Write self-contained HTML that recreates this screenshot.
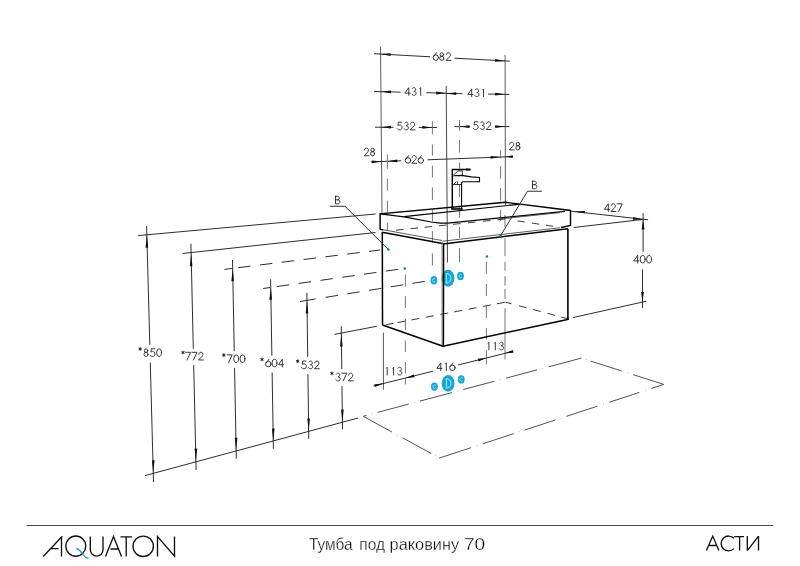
<!DOCTYPE html>
<html><head><meta charset="utf-8"><style>
html,body{margin:0;padding:0;background:#fff;width:800px;height:566px;overflow:hidden}
svg{display:block;will-change:transform}
text{font-family:"Liberation Sans",sans-serif}
</style></head><body>
<svg width="800" height="566" viewBox="0 0 800 566">
<ellipse cx="433.9" cy="280.3" rx="3.4" ry="4.2" fill="#18a6d6"/>
<path d="M435.2,278.90000000000003 A1.6,1.8 0 1 0 435.2,281.7" fill="none" stroke="#a8f0ff" stroke-width="0.75"/>
<ellipse cx="448" cy="278.25" rx="6.4" ry="8.4" fill="#18a6d6"/>
<path d="M446.3,273.45 L446.3,283.05 A4.6,4.8 0 0 0 446.3,273.45" fill="none" stroke="#9ff0ff" stroke-width="1.0"/>
<ellipse cx="460.5" cy="276" rx="3.4" ry="4.2" fill="#18a6d6"/>
<path d="M461.8,274.6 A1.6,1.8 0 1 0 461.8,277.4" fill="none" stroke="#a8f0ff" stroke-width="0.75"/>
<ellipse cx="434.4" cy="386.6" rx="3.4" ry="4.2" fill="#18a6d6"/>
<path d="M435.7,385.20000000000005 A1.6,1.8 0 1 0 435.7,388.0" fill="none" stroke="#a8f0ff" stroke-width="0.75"/>
<ellipse cx="448.1" cy="383.4" rx="6.4" ry="8.4" fill="#18a6d6"/>
<path d="M446.40000000000003,378.59999999999997 L446.40000000000003,388.2 A4.6,4.8 0 0 0 446.40000000000003,378.59999999999997" fill="none" stroke="#9ff0ff" stroke-width="1.0"/>
<ellipse cx="461.25" cy="379.4" rx="3.4" ry="4.2" fill="#18a6d6"/>
<path d="M462.55,378.0 A1.6,1.8 0 1 0 462.55,380.79999999999995" fill="none" stroke="#a8f0ff" stroke-width="0.75"/>
<line x1="380.50" y1="46.50" x2="382.00" y2="213.00" stroke="#4a4a4a" stroke-width="0.9" stroke-linecap="butt"/>
<line x1="446.20" y1="86.00" x2="447.50" y2="262.50" stroke="#333" stroke-width="0.9" stroke-linecap="butt"/>
<line x1="505.10" y1="55.00" x2="505.40" y2="205.00" stroke="#4a4a4a" stroke-width="0.9" stroke-linecap="butt"/>
<line x1="374.00" y1="53.70" x2="430.00" y2="56.79" stroke="#222" stroke-width="0.95" stroke-linecap="butt"/>
<line x1="454.50" y1="58.15" x2="509.75" y2="61.20" stroke="#222" stroke-width="0.95" stroke-linecap="butt"/>
<polygon points="380.60,54.06 390.66,53.22 390.51,56.01" fill="#111"/>
<polygon points="505.10,60.94 495.04,61.79 495.19,59.00" fill="#111"/>
<g fill="none" stroke="#222" stroke-width="0.9" stroke-linecap="round" stroke-linejoin="round"><g transform="translate(433.10,52.70) scale(1.0)"><path d="M3.4,0 L0.6,3.7"/><circle cx="2.75" cy="4.9" r="2.75"/></g><g transform="translate(439.50,52.70) scale(1.0)"><ellipse cx="2.3" cy="1.85" rx="1.7" ry="1.85"/><ellipse cx="2.3" cy="5.55" rx="2.0" ry="2.15"/></g><g transform="translate(445.90,52.70) scale(1.0)"><path d="M0.4,1.9 C0.5,0.8 1.4,0 2.5,0 C3.7,0 4.6,0.9 4.6,2 C4.6,2.7 4.3,3.3 3.8,3.9 L0.2,7.7 L5,7.7"/></g></g>
<line x1="374.00" y1="91.50" x2="400.60" y2="92.13" stroke="#222" stroke-width="0.95" stroke-linecap="butt"/>
<line x1="426.25" y1="92.73" x2="446.20" y2="93.20" stroke="#222" stroke-width="0.95" stroke-linecap="butt"/>
<polygon points="381.00,91.66 391.03,90.47 390.97,93.26" fill="#111"/>
<polygon points="446.20,93.20 436.17,94.40 436.23,91.60" fill="#111"/>
<g fill="none" stroke="#222" stroke-width="0.9" stroke-linecap="round" stroke-linejoin="round"><g transform="translate(404.90,87.60) scale(1.0)"><path d="M3.9,7.7 L3.9,0 L0,5.5 L5.2,5.5"/></g><g transform="translate(411.30,87.60) scale(1.0)"><path d="M1.0,0.9 C1.4,0.3 2.0,0 2.7,0 C3.7,0 4.4,0.8 4.4,1.8 C4.4,2.9 3.6,3.6 2.5,3.6 C3.9,3.6 4.8,4.5 4.8,5.7 C4.8,6.9 3.9,7.7 2.7,7.7 C1.8,7.7 1.0,7.3 0.6,6.6"/></g><g transform="translate(417.70,87.60) scale(1.0)"><path d="M2.2,0.9 L3,0 L3,7.7"/></g></g>
<line x1="446.20" y1="93.40" x2="462.50" y2="93.66" stroke="#222" stroke-width="0.95" stroke-linecap="butt"/>
<line x1="488.10" y1="94.06" x2="509.40" y2="94.40" stroke="#222" stroke-width="0.95" stroke-linecap="butt"/>
<polygon points="446.20,93.40 456.22,92.16 456.18,94.96" fill="#111"/>
<polygon points="505.10,94.30 495.08,95.54 495.12,92.74" fill="#111"/>
<g fill="none" stroke="#222" stroke-width="0.9" stroke-linecap="round" stroke-linejoin="round"><g transform="translate(467.80,88.90) scale(1.0)"><path d="M3.9,7.7 L3.9,0 L0,5.5 L5.2,5.5"/></g><g transform="translate(474.20,88.90) scale(1.0)"><path d="M1.0,0.9 C1.4,0.3 2.0,0 2.7,0 C3.7,0 4.4,0.8 4.4,1.8 C4.4,2.9 3.6,3.6 2.5,3.6 C3.9,3.6 4.8,4.5 4.8,5.7 C4.8,6.9 3.9,7.7 2.7,7.7 C1.8,7.7 1.0,7.3 0.6,6.6"/></g><g transform="translate(480.60,88.90) scale(1.0)"><path d="M2.2,0.9 L3,0 L3,7.7"/></g></g>
<line x1="375.00" y1="127.20" x2="393.50" y2="127.30" stroke="#222" stroke-width="0.95" stroke-linecap="butt"/>
<line x1="418.75" y1="127.40" x2="436.90" y2="127.50" stroke="#222" stroke-width="0.95" stroke-linecap="butt"/>
<polygon points="381.00,127.20 391.00,125.80 391.00,128.60" fill="#111"/>
<polygon points="432.30,127.45 422.30,128.85 422.30,126.05" fill="#111"/>
<g fill="none" stroke="#222" stroke-width="0.9" stroke-linecap="round" stroke-linejoin="round"><g transform="translate(397.20,122.20) scale(1.0)"><path d="M4.5,0 L1.2,0 L0.7,3.3 C1.2,3 1.8,2.8 2.5,2.8 C3.9,2.8 4.9,3.8 4.9,5.25 C4.9,6.7 3.9,7.7 2.5,7.7 C1.5,7.7 0.7,7.3 0.2,6.6"/></g><g transform="translate(403.60,122.20) scale(1.0)"><path d="M1.0,0.9 C1.4,0.3 2.0,0 2.7,0 C3.7,0 4.4,0.8 4.4,1.8 C4.4,2.9 3.6,3.6 2.5,3.6 C3.9,3.6 4.8,4.5 4.8,5.7 C4.8,6.9 3.9,7.7 2.7,7.7 C1.8,7.7 1.0,7.3 0.6,6.6"/></g><g transform="translate(410.00,122.20) scale(1.0)"><path d="M0.4,1.9 C0.5,0.8 1.4,0 2.5,0 C3.7,0 4.6,0.9 4.6,2 C4.6,2.7 4.3,3.3 3.8,3.9 L0.2,7.7 L5,7.7"/></g></g>
<line x1="454.40" y1="126.60" x2="470.00" y2="126.60" stroke="#222" stroke-width="0.95" stroke-linecap="butt"/>
<line x1="495.00" y1="126.60" x2="509.40" y2="126.60" stroke="#222" stroke-width="0.95" stroke-linecap="butt"/>
<polygon points="459.40,126.60 469.40,125.20 469.40,128.00" fill="#111"/>
<polygon points="505.10,126.60 495.10,128.00 495.10,125.20" fill="#111"/>
<g fill="none" stroke="#222" stroke-width="0.9" stroke-linecap="round" stroke-linejoin="round"><g transform="translate(473.25,121.80) scale(1.0)"><path d="M4.5,0 L1.2,0 L0.7,3.3 C1.2,3 1.8,2.8 2.5,2.8 C3.9,2.8 4.9,3.8 4.9,5.25 C4.9,6.7 3.9,7.7 2.5,7.7 C1.5,7.7 0.7,7.3 0.2,6.6"/></g><g transform="translate(479.65,121.80) scale(1.0)"><path d="M1.0,0.9 C1.4,0.3 2.0,0 2.7,0 C3.7,0 4.4,0.8 4.4,1.8 C4.4,2.9 3.6,3.6 2.5,3.6 C3.9,3.6 4.8,4.5 4.8,5.7 C4.8,6.9 3.9,7.7 2.7,7.7 C1.8,7.7 1.0,7.3 0.6,6.6"/></g><g transform="translate(486.05,121.80) scale(1.0)"><path d="M0.4,1.9 C0.5,0.8 1.4,0 2.5,0 C3.7,0 4.6,0.9 4.6,2 C4.6,2.7 4.3,3.3 3.8,3.9 L0.2,7.7 L5,7.7"/></g></g>
<line x1="371.25" y1="161.90" x2="401.25" y2="160.77" stroke="#222" stroke-width="0.95" stroke-linecap="butt"/>
<line x1="427.50" y1="159.79" x2="512.50" y2="156.60" stroke="#222" stroke-width="0.95" stroke-linecap="butt"/>
<polygon points="381.30,161.52 371.85,163.15 371.76,160.56" fill="#111"/>
<polygon points="387.30,161.30 397.24,159.55 397.34,162.35" fill="#111"/>
<polygon points="500.60,157.05 490.66,158.80 490.56,156.00" fill="#111"/>
<polygon points="505.40,156.87 512.85,155.30 512.94,157.90" fill="#111"/>
<g fill="none" stroke="#222" stroke-width="0.9" stroke-linecap="round" stroke-linejoin="round"><g transform="translate(405.25,155.55) scale(1.0)"><path d="M3.4,0 L0.6,3.7"/><circle cx="2.75" cy="4.9" r="2.75"/></g><g transform="translate(411.65,155.55) scale(1.0)"><path d="M0.4,1.9 C0.5,0.8 1.4,0 2.5,0 C3.7,0 4.6,0.9 4.6,2 C4.6,2.7 4.3,3.3 3.8,3.9 L0.2,7.7 L5,7.7"/></g><g transform="translate(418.05,155.55) scale(1.0)"><path d="M3.4,0 L0.6,3.7"/><circle cx="2.75" cy="4.9" r="2.75"/></g></g>
<g fill="none" stroke="#222" stroke-width="0.9" stroke-linecap="round" stroke-linejoin="round"><g transform="translate(363.90,148.10) scale(1.0)"><path d="M0.4,1.9 C0.5,0.8 1.4,0 2.5,0 C3.7,0 4.6,0.9 4.6,2 C4.6,2.7 4.3,3.3 3.8,3.9 L0.2,7.7 L5,7.7"/></g><g transform="translate(370.30,148.10) scale(1.0)"><ellipse cx="2.3" cy="1.85" rx="1.7" ry="1.85"/><ellipse cx="2.3" cy="5.55" rx="2.0" ry="2.15"/></g></g>
<g fill="none" stroke="#222" stroke-width="0.9" stroke-linecap="round" stroke-linejoin="round"><g transform="translate(509.20,142.20) scale(1.0)"><path d="M0.4,1.9 C0.5,0.8 1.4,0 2.5,0 C3.7,0 4.6,0.9 4.6,2 C4.6,2.7 4.3,3.3 3.8,3.9 L0.2,7.7 L5,7.7"/></g><g transform="translate(515.60,142.20) scale(1.0)"><ellipse cx="2.3" cy="1.85" rx="1.7" ry="1.85"/><ellipse cx="2.3" cy="5.55" rx="2.0" ry="2.15"/></g></g>
<line x1="387.40" y1="154.40" x2="387.40" y2="168.75" stroke="#666" stroke-width="0.9" stroke-linecap="butt"/>
<line x1="387.40" y1="178.75" x2="387.40" y2="190.60" stroke="#666" stroke-width="0.9" stroke-linecap="butt"/>
<line x1="387.40" y1="200.60" x2="387.40" y2="212.50" stroke="#666" stroke-width="0.9" stroke-linecap="butt"/>
<line x1="387.40" y1="222.50" x2="387.40" y2="230.00" stroke="#666" stroke-width="0.9" stroke-linecap="butt"/>
<line x1="500.60" y1="150.00" x2="500.60" y2="158.50" stroke="#666" stroke-width="0.9" stroke-linecap="butt"/>
<line x1="500.60" y1="166.25" x2="500.60" y2="178.75" stroke="#666" stroke-width="0.9" stroke-linecap="butt"/>
<line x1="500.60" y1="188.00" x2="500.60" y2="200.60" stroke="#666" stroke-width="0.9" stroke-linecap="butt"/>
<line x1="500.60" y1="210.00" x2="500.60" y2="221.25" stroke="#666" stroke-width="0.9" stroke-linecap="butt"/>
<line x1="432.40" y1="121.25" x2="432.40" y2="134.40" stroke="#666" stroke-width="0.9" stroke-linecap="butt"/>
<line x1="432.40" y1="144.40" x2="432.40" y2="155.60" stroke="#666" stroke-width="0.9" stroke-linecap="butt"/>
<line x1="432.40" y1="165.60" x2="432.40" y2="177.50" stroke="#666" stroke-width="0.9" stroke-linecap="butt"/>
<line x1="432.40" y1="187.50" x2="432.40" y2="200.00" stroke="#666" stroke-width="0.9" stroke-linecap="butt"/>
<line x1="432.40" y1="209.40" x2="432.40" y2="221.25" stroke="#666" stroke-width="0.9" stroke-linecap="butt"/>
<line x1="432.40" y1="231.00" x2="432.40" y2="243.00" stroke="#666" stroke-width="0.9" stroke-linecap="butt"/>
<line x1="432.40" y1="253.30" x2="432.40" y2="265.50" stroke="#666" stroke-width="0.9" stroke-linecap="butt"/>
<line x1="459.50" y1="120.00" x2="459.50" y2="130.60" stroke="#666" stroke-width="0.9" stroke-linecap="butt"/>
<line x1="459.50" y1="140.00" x2="459.50" y2="152.50" stroke="#666" stroke-width="0.9" stroke-linecap="butt"/>
<line x1="459.50" y1="162.50" x2="459.50" y2="168.50" stroke="#666" stroke-width="0.9" stroke-linecap="butt"/>
<line x1="459.50" y1="185.00" x2="459.50" y2="197.00" stroke="#666" stroke-width="0.9" stroke-linecap="butt"/>
<line x1="459.50" y1="207.00" x2="459.50" y2="217.60" stroke="#666" stroke-width="0.9" stroke-linecap="butt"/>
<line x1="459.50" y1="227.00" x2="459.50" y2="238.00" stroke="#666" stroke-width="0.9" stroke-linecap="butt"/>
<line x1="459.50" y1="248.00" x2="459.50" y2="262.00" stroke="#666" stroke-width="0.9" stroke-linecap="butt"/>
<line x1="505.00" y1="215.00" x2="505.00" y2="227.00" stroke="#666" stroke-width="0.9" stroke-linecap="butt"/>
<line x1="505.00" y1="238.00" x2="505.00" y2="256.25" stroke="#666" stroke-width="0.9" stroke-linecap="butt"/>
<line x1="505.00" y1="261.90" x2="505.00" y2="270.60" stroke="#666" stroke-width="0.9" stroke-linecap="butt"/>
<line x1="505.00" y1="276.25" x2="505.00" y2="285.60" stroke="#666" stroke-width="0.9" stroke-linecap="butt"/>
<line x1="505.00" y1="289.00" x2="505.00" y2="298.75" stroke="#666" stroke-width="0.9" stroke-linecap="butt"/>
<line x1="505.00" y1="308.00" x2="505.00" y2="359.40" stroke="#666" stroke-width="0.9" stroke-linecap="butt"/>
<line x1="486.40" y1="262.00" x2="486.40" y2="274.00" stroke="#666" stroke-width="0.9" stroke-linecap="butt"/>
<line x1="486.40" y1="284.00" x2="486.40" y2="296.00" stroke="#666" stroke-width="0.9" stroke-linecap="butt"/>
<line x1="486.40" y1="306.00" x2="486.40" y2="318.00" stroke="#666" stroke-width="0.9" stroke-linecap="butt"/>
<line x1="486.40" y1="328.00" x2="486.40" y2="339.40" stroke="#666" stroke-width="0.9" stroke-linecap="butt"/>
<line x1="486.40" y1="350.00" x2="486.40" y2="364.40" stroke="#666" stroke-width="0.9" stroke-linecap="butt"/>
<line x1="405.40" y1="274.50" x2="405.40" y2="286.70" stroke="#666" stroke-width="0.9" stroke-linecap="butt"/>
<line x1="405.40" y1="296.20" x2="405.40" y2="308.00" stroke="#666" stroke-width="0.9" stroke-linecap="butt"/>
<line x1="405.40" y1="318.75" x2="405.40" y2="330.00" stroke="#666" stroke-width="0.9" stroke-linecap="butt"/>
<line x1="405.40" y1="340.60" x2="405.40" y2="351.90" stroke="#666" stroke-width="0.9" stroke-linecap="butt"/>
<line x1="405.40" y1="362.20" x2="405.40" y2="373.40" stroke="#666" stroke-width="0.9" stroke-linecap="butt"/>
<line x1="405.40" y1="378.10" x2="405.40" y2="384.40" stroke="#666" stroke-width="0.9" stroke-linecap="butt"/>
<line x1="383.40" y1="332.50" x2="383.40" y2="389.70" stroke="#444" stroke-width="0.9" stroke-linecap="butt"/>
<polyline points="380.10,229.40 380.10,213.80 505.50,202.30 570.50,210.50 570.50,225.50 561.00,227.50" fill="none" stroke="#000" stroke-width="1.45" stroke-linejoin="miter"/>
<line x1="380.10" y1="229.40" x2="383.00" y2="229.70" stroke="#000" stroke-width="1.45" stroke-linecap="butt"/>
<polyline points="380.10,213.80 404.10,216.80 431.25,222.00 440.00,223.10 447.60,223.20" fill="none" stroke="#000" stroke-width="1.2" stroke-linejoin="miter"/>
<line x1="404.10" y1="216.60" x2="519.00" y2="204.30" stroke="#000" stroke-width="1.2" stroke-linecap="butt"/>
<line x1="447.60" y1="223.10" x2="565.00" y2="211.30" stroke="#000" stroke-width="1.3" stroke-linecap="butt"/>
<line x1="500.00" y1="219.00" x2="560.00" y2="212.60" stroke="#333" stroke-width="0.8" stroke-linecap="butt"/>
<polyline points="452.30,209.00 452.30,169.50 470.50,169.50" fill="none" stroke="#000" stroke-width="1.4" stroke-linejoin="miter"/>
<line x1="466.00" y1="169.50" x2="470.50" y2="169.60" stroke="#000" stroke-width="1.9" stroke-linecap="butt"/>
<polyline points="453.40,175.80 461.50,175.40 471.40,176.90 479.50,177.40 479.50,181.70 462.90,181.70 461.60,182.60 461.60,209.00" fill="none" stroke="#000" stroke-width="1.1" stroke-linejoin="miter"/>
<polyline points="453.40,175.10 457.90,170.90 462.40,170.90 462.40,175.40" fill="none" stroke="#000" stroke-width="0.8" stroke-linejoin="miter"/>
<line x1="453.40" y1="184.40" x2="456.60" y2="181.40" stroke="#000" stroke-width="0.8" stroke-linecap="butt"/>
<line x1="457.50" y1="181.60" x2="457.50" y2="184.40" stroke="#000" stroke-width="0.8" stroke-linecap="butt"/>
<line x1="453.20" y1="184.60" x2="461.50" y2="184.60" stroke="#000" stroke-width="0.9" stroke-linecap="butt"/>
<line x1="451.20" y1="209.00" x2="462.70" y2="209.00" stroke="#000" stroke-width="1.6" stroke-linecap="butt"/>
<line x1="385.70" y1="324.81" x2="393.50" y2="323.34" stroke="#222" stroke-width="0.9" stroke-linecap="butt"/>
<line x1="397.50" y1="322.58" x2="405.30" y2="321.11" stroke="#222" stroke-width="0.9" stroke-linecap="butt"/>
<line x1="411.50" y1="319.94" x2="419.30" y2="318.46" stroke="#222" stroke-width="0.9" stroke-linecap="butt"/>
<line x1="425.90" y1="317.22" x2="433.70" y2="315.74" stroke="#222" stroke-width="0.9" stroke-linecap="butt"/>
<line x1="440.40" y1="314.48" x2="448.20" y2="313.00" stroke="#222" stroke-width="0.9" stroke-linecap="butt"/>
<line x1="454.20" y1="311.87" x2="462.00" y2="310.40" stroke="#222" stroke-width="0.9" stroke-linecap="butt"/>
<line x1="468.60" y1="309.15" x2="476.40" y2="307.68" stroke="#222" stroke-width="0.9" stroke-linecap="butt"/>
<line x1="483.00" y1="306.43" x2="490.80" y2="304.96" stroke="#222" stroke-width="0.9" stroke-linecap="butt"/>
<line x1="497.00" y1="303.79" x2="504.80" y2="302.31" stroke="#222" stroke-width="0.9" stroke-linecap="butt"/>
<line x1="505.40" y1="302.20" x2="511.50" y2="303.80" stroke="#222" stroke-width="0.9" stroke-linecap="butt"/>
<line x1="519.00" y1="305.80" x2="526.50" y2="307.79" stroke="#222" stroke-width="0.9" stroke-linecap="butt"/>
<line x1="533.20" y1="309.56" x2="540.70" y2="311.55" stroke="#222" stroke-width="0.9" stroke-linecap="butt"/>
<line x1="547.40" y1="313.32" x2="554.90" y2="315.31" stroke="#222" stroke-width="0.9" stroke-linecap="butt"/>
<line x1="561.20" y1="316.98" x2="568.70" y2="318.96" stroke="#222" stroke-width="0.9" stroke-linecap="butt"/>
<line x1="396.00" y1="230.19" x2="403.50" y2="229.42" stroke="#222" stroke-width="0.9" stroke-linecap="butt"/>
<line x1="410.50" y1="228.70" x2="418.00" y2="227.93" stroke="#222" stroke-width="0.9" stroke-linecap="butt"/>
<line x1="424.50" y1="227.27" x2="432.00" y2="226.50" stroke="#222" stroke-width="0.9" stroke-linecap="butt"/>
<line x1="439.00" y1="225.78" x2="446.50" y2="225.01" stroke="#222" stroke-width="0.9" stroke-linecap="butt"/>
<line x1="453.00" y1="224.34" x2="460.50" y2="223.57" stroke="#222" stroke-width="0.9" stroke-linecap="butt"/>
<line x1="468.00" y1="222.80" x2="475.50" y2="222.03" stroke="#222" stroke-width="0.9" stroke-linecap="butt"/>
<line x1="483.00" y1="221.26" x2="490.50" y2="220.49" stroke="#222" stroke-width="0.9" stroke-linecap="butt"/>
<line x1="497.50" y1="219.77" x2="505.00" y2="219.00" stroke="#222" stroke-width="0.9" stroke-linecap="butt"/>
<line x1="517.50" y1="220.90" x2="524.70" y2="221.99" stroke="#222" stroke-width="0.9" stroke-linecap="butt"/>
<line x1="532.00" y1="223.10" x2="539.20" y2="224.19" stroke="#222" stroke-width="0.9" stroke-linecap="butt"/>
<line x1="546.00" y1="225.22" x2="553.20" y2="226.32" stroke="#222" stroke-width="0.9" stroke-linecap="butt"/>
<line x1="382.30" y1="232.00" x2="382.50" y2="325.00" stroke="#000" stroke-width="1.5" stroke-linecap="butt"/>
<line x1="382.20" y1="232.20" x2="442.50" y2="243.50" stroke="#000" stroke-width="1.5" stroke-linecap="butt"/>
<line x1="383.00" y1="229.70" x2="442.00" y2="240.50" stroke="#333" stroke-width="0.8" stroke-linecap="butt"/>
<line x1="443.60" y1="243.50" x2="443.40" y2="346.25" stroke="#000" stroke-width="1.5" stroke-linecap="butt"/>
<line x1="442.10" y1="242.00" x2="442.10" y2="346.00" stroke="#555" stroke-width="0.8" stroke-linecap="butt"/>
<line x1="443.00" y1="244.00" x2="567.90" y2="228.75" stroke="#000" stroke-width="1.5" stroke-linecap="butt"/>
<line x1="442.50" y1="241.20" x2="560.00" y2="227.75" stroke="#333" stroke-width="0.8" stroke-linecap="butt"/>
<line x1="567.90" y1="228.75" x2="567.90" y2="319.40" stroke="#000" stroke-width="1.6" stroke-linecap="butt"/>
<line x1="443.00" y1="346.25" x2="568.60" y2="319.20" stroke="#000" stroke-width="1.5" stroke-linecap="butt"/>
<line x1="382.50" y1="325.00" x2="443.00" y2="346.25" stroke="#000" stroke-width="1.5" stroke-linecap="butt"/>
<line x1="570.60" y1="211.20" x2="648.10" y2="219.80" stroke="#222" stroke-width="0.95" stroke-linecap="butt"/>
<polygon points="643.10,219.40 633.01,219.69 633.32,216.91" fill="#111"/>
<polygon points="573.00,211.50 585.04,210.90 584.93,213.30" fill="#111"/>
<line x1="573.75" y1="227.50" x2="643.00" y2="219.40" stroke="#222" stroke-width="0.95" stroke-linecap="butt"/>
<g fill="none" stroke="#222" stroke-width="0.9" stroke-linecap="round" stroke-linejoin="round"><g transform="translate(604.40,203.80) scale(1.0)"><path d="M3.9,7.7 L3.9,0 L0,5.5 L5.2,5.5"/></g><g transform="translate(610.80,203.80) scale(1.0)"><path d="M0.4,1.9 C0.5,0.8 1.4,0 2.5,0 C3.7,0 4.6,0.9 4.6,2 C4.6,2.7 4.3,3.3 3.8,3.9 L0.2,7.7 L5,7.7"/></g><g transform="translate(617.20,203.80) scale(1.0)"><path d="M0,0 L5,0 L1.4,7.7"/></g></g>
<line x1="643.10" y1="213.10" x2="643.10" y2="251.90" stroke="#222" stroke-width="0.95" stroke-linecap="butt"/>
<polygon points="643.10,219.40 644.50,229.40 641.70,229.40" fill="#111"/>
<g fill="none" stroke="#222" stroke-width="0.9" stroke-linecap="round" stroke-linejoin="round"><g transform="translate(633.75,255.40) scale(1.0)"><path d="M3.9,7.7 L3.9,0 L0,5.5 L5.2,5.5"/></g><g transform="translate(640.15,255.40) scale(1.0)"><ellipse cx="2.5" cy="3.85" rx="2.45" ry="3.8"/></g><g transform="translate(646.55,255.40) scale(1.0)"><ellipse cx="2.5" cy="3.85" rx="2.45" ry="3.8"/></g></g>
<line x1="642.50" y1="269.40" x2="642.50" y2="308.10" stroke="#222" stroke-width="0.95" stroke-linecap="butt"/>
<polygon points="642.50,301.90 641.10,291.90 643.90,291.90" fill="#111"/>
<line x1="573.10" y1="317.50" x2="646.25" y2="301.25" stroke="#222" stroke-width="0.95" stroke-linecap="butt"/>
<line x1="138.10" y1="235.60" x2="375.60" y2="214.00" stroke="#222" stroke-width="0.95" stroke-linecap="butt"/>
<line x1="182.50" y1="253.50" x2="375.60" y2="232.50" stroke="#222" stroke-width="0.95" stroke-linecap="butt"/>
<line x1="224.40" y1="269.40" x2="232.00" y2="268.45" stroke="#222" stroke-width="0.95" stroke-linecap="butt"/>
<line x1="238.10" y1="267.69" x2="250.50" y2="266.15" stroke="#222" stroke-width="0.95" stroke-linecap="butt"/>
<line x1="259.93" y1="264.97" x2="272.33" y2="263.42" stroke="#222" stroke-width="0.95" stroke-linecap="butt"/>
<line x1="281.76" y1="262.25" x2="294.17" y2="260.70" stroke="#222" stroke-width="0.95" stroke-linecap="butt"/>
<line x1="303.59" y1="259.53" x2="316.00" y2="257.98" stroke="#222" stroke-width="0.95" stroke-linecap="butt"/>
<line x1="325.42" y1="256.80" x2="337.83" y2="255.26" stroke="#222" stroke-width="0.95" stroke-linecap="butt"/>
<line x1="347.25" y1="254.08" x2="359.66" y2="252.54" stroke="#222" stroke-width="0.95" stroke-linecap="butt"/>
<line x1="369.09" y1="251.36" x2="380.00" y2="250.00" stroke="#222" stroke-width="0.95" stroke-linecap="butt"/>
<line x1="263.10" y1="288.50" x2="270.00" y2="287.52" stroke="#222" stroke-width="0.95" stroke-linecap="butt"/>
<line x1="276.90" y1="286.54" x2="289.28" y2="284.78" stroke="#222" stroke-width="0.95" stroke-linecap="butt"/>
<line x1="298.68" y1="283.45" x2="311.06" y2="281.69" stroke="#222" stroke-width="0.95" stroke-linecap="butt"/>
<line x1="320.46" y1="280.36" x2="332.84" y2="278.60" stroke="#222" stroke-width="0.95" stroke-linecap="butt"/>
<line x1="342.24" y1="277.27" x2="354.62" y2="275.51" stroke="#222" stroke-width="0.95" stroke-linecap="butt"/>
<line x1="364.03" y1="274.17" x2="376.40" y2="272.42" stroke="#222" stroke-width="0.95" stroke-linecap="butt"/>
<line x1="385.81" y1="271.08" x2="398.18" y2="269.32" stroke="#222" stroke-width="0.95" stroke-linecap="butt"/>
<line x1="300.00" y1="301.50" x2="315.60" y2="298.98" stroke="#222" stroke-width="0.95" stroke-linecap="butt"/>
<line x1="325.60" y1="297.36" x2="337.94" y2="295.37" stroke="#222" stroke-width="0.95" stroke-linecap="butt"/>
<line x1="347.32" y1="293.86" x2="359.66" y2="291.86" stroke="#222" stroke-width="0.95" stroke-linecap="butt"/>
<line x1="369.04" y1="290.35" x2="381.38" y2="288.35" stroke="#222" stroke-width="0.95" stroke-linecap="butt"/>
<line x1="390.76" y1="286.84" x2="403.10" y2="284.85" stroke="#222" stroke-width="0.95" stroke-linecap="butt"/>
<line x1="412.47" y1="283.33" x2="424.81" y2="281.34" stroke="#222" stroke-width="0.95" stroke-linecap="butt"/>
<line x1="334.40" y1="334.40" x2="376.90" y2="326.25" stroke="#222" stroke-width="0.95" stroke-linecap="butt"/>
<line x1="146.60" y1="226.00" x2="149.81" y2="345.00" stroke="#222" stroke-width="0.95" stroke-linecap="butt"/>
<line x1="150.28" y1="362.50" x2="153.50" y2="482.00" stroke="#222" stroke-width="0.95" stroke-linecap="butt"/>
<polygon points="146.84,235.00 148.14,247.80 145.54,247.80" fill="#111"/>
<polygon points="153.26,473.10 151.96,460.30 154.56,460.30" fill="#111"/>
<g fill="none" stroke="#222" stroke-width="0.9" stroke-linecap="round" stroke-linejoin="round"><g transform="translate(143.75,348.80) scale(1.0)"><ellipse cx="2.3" cy="1.85" rx="1.7" ry="1.85"/><ellipse cx="2.3" cy="5.55" rx="2.0" ry="2.15"/></g><g transform="translate(150.15,348.80) scale(1.0)"><path d="M4.5,0 L1.2,0 L0.7,3.3 C1.2,3 1.8,2.8 2.5,2.8 C3.9,2.8 4.9,3.8 4.9,5.25 C4.9,6.7 3.9,7.7 2.5,7.7 C1.5,7.7 0.7,7.3 0.2,6.6"/></g><g transform="translate(156.55,348.80) scale(1.0)"><ellipse cx="2.5" cy="3.85" rx="2.45" ry="3.8"/></g></g>
<g fill="none" stroke="#222" stroke-width="1.0" stroke-linecap="round" stroke-linejoin="round"><g transform="translate(138.75,347.60) scale(1.0)"><path d="M1.4,0 L1.4,2.8 M0.2,0.7 L2.6,2.1 M0.2,2.1 L2.6,0.7"/></g></g>
<line x1="190.90" y1="243.75" x2="193.31" y2="348.75" stroke="#222" stroke-width="0.95" stroke-linecap="butt"/>
<line x1="193.69" y1="365.00" x2="196.10" y2="470.00" stroke="#222" stroke-width="0.95" stroke-linecap="butt"/>
<polygon points="191.12,253.50 192.42,266.30 189.82,266.30" fill="#111"/>
<polygon points="195.90,461.25 194.60,448.45 197.20,448.45" fill="#111"/>
<g fill="none" stroke="#222" stroke-width="0.9" stroke-linecap="round" stroke-linejoin="round"><g transform="translate(185.60,352.30) scale(1.0)"><path d="M0,0 L5,0 L1.4,7.7"/></g><g transform="translate(192.00,352.30) scale(1.0)"><path d="M0,0 L5,0 L1.4,7.7"/></g><g transform="translate(198.40,352.30) scale(1.0)"><path d="M0.4,1.9 C0.5,0.8 1.4,0 2.5,0 C3.7,0 4.6,0.9 4.6,2 C4.6,2.7 4.3,3.3 3.8,3.9 L0.2,7.7 L5,7.7"/></g></g>
<g fill="none" stroke="#222" stroke-width="1.0" stroke-linecap="round" stroke-linejoin="round"><g transform="translate(181.60,351.10) scale(1.0)"><path d="M1.4,0 L1.4,2.8 M0.2,0.7 L2.6,2.1 M0.2,2.1 L2.6,0.7"/></g></g>
<line x1="232.50" y1="260.00" x2="234.24" y2="351.25" stroke="#222" stroke-width="0.95" stroke-linecap="butt"/>
<line x1="234.57" y1="368.10" x2="236.30" y2="458.75" stroke="#222" stroke-width="0.95" stroke-linecap="butt"/>
<polygon points="232.66,268.50 233.96,281.30 231.36,281.30" fill="#111"/>
<polygon points="236.14,450.60 234.84,437.80 237.44,437.80" fill="#111"/>
<g fill="none" stroke="#222" stroke-width="0.9" stroke-linecap="round" stroke-linejoin="round"><g transform="translate(227.20,354.90) scale(1.0)"><path d="M0,0 L5,0 L1.4,7.7"/></g><g transform="translate(233.60,354.90) scale(1.0)"><ellipse cx="2.5" cy="3.85" rx="2.45" ry="3.8"/></g><g transform="translate(240.00,354.90) scale(1.0)"><ellipse cx="2.5" cy="3.85" rx="2.45" ry="3.8"/></g></g>
<g fill="none" stroke="#222" stroke-width="1.0" stroke-linecap="round" stroke-linejoin="round"><g transform="translate(222.40,353.70) scale(1.0)"><path d="M1.4,0 L1.4,2.8 M0.2,0.7 L2.6,2.1 M0.2,2.1 L2.6,0.7"/></g></g>
<line x1="270.60" y1="279.40" x2="271.86" y2="355.60" stroke="#222" stroke-width="0.95" stroke-linecap="butt"/>
<line x1="272.14" y1="372.50" x2="273.40" y2="448.75" stroke="#222" stroke-width="0.95" stroke-linecap="butt"/>
<polygon points="270.72,286.90 272.02,299.70 269.42,299.70" fill="#111"/>
<polygon points="273.28,441.25 271.98,428.45 274.58,428.45" fill="#111"/>
<g fill="none" stroke="#222" stroke-width="0.9" stroke-linecap="round" stroke-linejoin="round"><g transform="translate(265.60,359.20) scale(1.0)"><path d="M3.4,0 L0.6,3.7"/><circle cx="2.75" cy="4.9" r="2.75"/></g><g transform="translate(272.00,359.20) scale(1.0)"><ellipse cx="2.5" cy="3.85" rx="2.45" ry="3.8"/></g><g transform="translate(278.40,359.20) scale(1.0)"><path d="M3.9,7.7 L3.9,0 L0,5.5 L5.2,5.5"/></g></g>
<g fill="none" stroke="#222" stroke-width="1.0" stroke-linecap="round" stroke-linejoin="round"><g transform="translate(260.60,358.00) scale(1.0)"><path d="M1.4,0 L1.4,2.8 M0.2,0.7 L2.6,2.1 M0.2,2.1 L2.6,0.7"/></g></g>
<line x1="306.90" y1="292.75" x2="307.71" y2="356.90" stroke="#222" stroke-width="0.95" stroke-linecap="butt"/>
<line x1="307.93" y1="374.00" x2="308.75" y2="438.75" stroke="#222" stroke-width="0.95" stroke-linecap="butt"/>
<polygon points="307.00,300.60 308.30,313.40 305.70,313.40" fill="#111"/>
<polygon points="308.65,431.25 307.35,418.45 309.95,418.45" fill="#111"/>
<g fill="none" stroke="#222" stroke-width="0.9" stroke-linecap="round" stroke-linejoin="round"><g transform="translate(301.50,361.05) scale(1.0)"><path d="M4.5,0 L1.2,0 L0.7,3.3 C1.2,3 1.8,2.8 2.5,2.8 C3.9,2.8 4.9,3.8 4.9,5.25 C4.9,6.7 3.9,7.7 2.5,7.7 C1.5,7.7 0.7,7.3 0.2,6.6"/></g><g transform="translate(307.90,361.05) scale(1.0)"><path d="M1.0,0.9 C1.4,0.3 2.0,0 2.7,0 C3.7,0 4.4,0.8 4.4,1.8 C4.4,2.9 3.6,3.6 2.5,3.6 C3.9,3.6 4.8,4.5 4.8,5.7 C4.8,6.9 3.9,7.7 2.7,7.7 C1.8,7.7 1.0,7.3 0.6,6.6"/></g><g transform="translate(314.30,361.05) scale(1.0)"><path d="M0.4,1.9 C0.5,0.8 1.4,0 2.5,0 C3.7,0 4.6,0.9 4.6,2 C4.6,2.7 4.3,3.3 3.8,3.9 L0.2,7.7 L5,7.7"/></g></g>
<g fill="none" stroke="#222" stroke-width="1.0" stroke-linecap="round" stroke-linejoin="round"><g transform="translate(296.30,359.85) scale(1.0)"><path d="M1.4,0 L1.4,2.8 M0.2,0.7 L2.6,2.1 M0.2,2.1 L2.6,0.7"/></g></g>
<line x1="341.25" y1="326.25" x2="341.77" y2="369.20" stroke="#222" stroke-width="0.95" stroke-linecap="butt"/>
<line x1="341.98" y1="386.10" x2="342.50" y2="429.30" stroke="#222" stroke-width="0.95" stroke-linecap="butt"/>
<polygon points="341.34,333.75 342.64,346.55 340.04,346.55" fill="#111"/>
<polygon points="342.41,422.20 341.11,409.40 343.71,409.40" fill="#111"/>
<g fill="none" stroke="#222" stroke-width="0.9" stroke-linecap="round" stroke-linejoin="round"><g transform="translate(335.40,373.20) scale(1.0)"><path d="M1.0,0.9 C1.4,0.3 2.0,0 2.7,0 C3.7,0 4.4,0.8 4.4,1.8 C4.4,2.9 3.6,3.6 2.5,3.6 C3.9,3.6 4.8,4.5 4.8,5.7 C4.8,6.9 3.9,7.7 2.7,7.7 C1.8,7.7 1.0,7.3 0.6,6.6"/></g><g transform="translate(341.80,373.20) scale(1.0)"><path d="M0,0 L5,0 L1.4,7.7"/></g><g transform="translate(348.20,373.20) scale(1.0)"><path d="M0.4,1.9 C0.5,0.8 1.4,0 2.5,0 C3.7,0 4.6,0.9 4.6,2 C4.6,2.7 4.3,3.3 3.8,3.9 L0.2,7.7 L5,7.7"/></g></g>
<g fill="none" stroke="#222" stroke-width="1.0" stroke-linecap="round" stroke-linejoin="round"><g transform="translate(330.50,372.00) scale(1.0)"><path d="M1.4,0 L1.4,2.8 M0.2,0.7 L2.6,2.1 M0.2,2.1 L2.6,0.7"/></g></g>
<line x1="145.00" y1="475.60" x2="358.10" y2="418.00" stroke="#222" stroke-width="0.95" stroke-linecap="butt"/>
<line x1="373.40" y1="386.00" x2="433.10" y2="371.19" stroke="#222" stroke-width="0.95" stroke-linecap="butt"/>
<line x1="458.00" y1="365.02" x2="512.50" y2="351.50" stroke="#222" stroke-width="0.95" stroke-linecap="butt"/>
<polygon points="383.40,383.52 375.00,387.04 374.33,384.33" fill="#111"/>
<polygon points="405.50,378.04 413.90,374.51 414.57,377.23" fill="#111"/>
<polygon points="486.40,357.97 478.49,361.38 477.81,358.66" fill="#111"/>
<polygon points="505.00,353.36 512.91,349.96 513.59,352.67" fill="#111"/>
<g fill="none" stroke="#222" stroke-width="0.9" stroke-linecap="round" stroke-linejoin="round"><g transform="translate(384.20,367.30) scale(1.0)"><path d="M2.2,0.9 L3,0 L3,7.7"/></g><g transform="translate(390.60,367.30) scale(1.0)"><path d="M2.2,0.9 L3,0 L3,7.7"/></g><g transform="translate(397.00,367.30) scale(1.0)"><path d="M1.0,0.9 C1.4,0.3 2.0,0 2.7,0 C3.7,0 4.4,0.8 4.4,1.8 C4.4,2.9 3.6,3.6 2.5,3.6 C3.9,3.6 4.8,4.5 4.8,5.7 C4.8,6.9 3.9,7.7 2.7,7.7 C1.8,7.7 1.0,7.3 0.6,6.6"/></g></g>
<g fill="none" stroke="#222" stroke-width="0.9" stroke-linecap="round" stroke-linejoin="round"><g transform="translate(436.90,362.90) scale(1.0)"><path d="M3.9,7.7 L3.9,0 L0,5.5 L5.2,5.5"/></g><g transform="translate(443.30,362.90) scale(1.0)"><path d="M2.2,0.9 L3,0 L3,7.7"/></g><g transform="translate(449.70,362.90) scale(1.0)"><path d="M3.4,0 L0.6,3.7"/><circle cx="2.75" cy="4.9" r="2.75"/></g></g>
<g fill="none" stroke="#222" stroke-width="0.9" stroke-linecap="round" stroke-linejoin="round"><g transform="translate(485.90,342.20) scale(1.0)"><path d="M2.2,0.9 L3,0 L3,7.7"/></g><g transform="translate(492.30,342.20) scale(1.0)"><path d="M2.2,0.9 L3,0 L3,7.7"/></g><g transform="translate(498.70,342.20) scale(1.0)"><path d="M1.0,0.9 C1.4,0.3 2.0,0 2.7,0 C3.7,0 4.4,0.8 4.4,1.8 C4.4,2.9 3.6,3.6 2.5,3.6 C3.9,3.6 4.8,4.5 4.8,5.7 C4.8,6.9 3.9,7.7 2.7,7.7 C1.8,7.7 1.0,7.3 0.6,6.6"/></g></g>
<line x1="363.10" y1="416.25" x2="366.50" y2="415.34" stroke="#333" stroke-width="0.85" stroke-linecap="butt"/>
<line x1="377.50" y1="412.41" x2="408.75" y2="404.08" stroke="#333" stroke-width="0.85" stroke-linecap="butt"/>
<line x1="420.00" y1="401.08" x2="451.90" y2="392.58" stroke="#333" stroke-width="0.85" stroke-linecap="butt"/>
<line x1="463.30" y1="389.54" x2="494.40" y2="381.25" stroke="#333" stroke-width="0.85" stroke-linecap="butt"/>
<line x1="506.00" y1="378.16" x2="537.10" y2="369.87" stroke="#333" stroke-width="0.85" stroke-linecap="butt"/>
<line x1="548.80" y1="366.75" x2="581.25" y2="358.10" stroke="#333" stroke-width="0.85" stroke-linecap="butt"/>
<circle cx="372.00" cy="413.88" r="0.45" fill="#777"/>
<circle cx="414.38" cy="402.58" r="0.45" fill="#777"/>
<circle cx="457.60" cy="391.06" r="0.45" fill="#777"/>
<circle cx="500.20" cy="379.70" r="0.45" fill="#777"/>
<circle cx="542.95" cy="368.31" r="0.45" fill="#777"/>
<line x1="581.25" y1="358.10" x2="581.50" y2="358.18" stroke="#333" stroke-width="0.85" stroke-linecap="butt"/>
<line x1="590.60" y1="361.08" x2="621.90" y2="371.06" stroke="#333" stroke-width="0.85" stroke-linecap="butt"/>
<line x1="633.10" y1="374.63" x2="663.75" y2="384.40" stroke="#333" stroke-width="0.85" stroke-linecap="butt"/>
<circle cx="586.05" cy="359.63" r="0.45" fill="#777"/>
<circle cx="627.50" cy="372.84" r="0.45" fill="#777"/>
<line x1="439.50" y1="458.00" x2="471.10" y2="447.63" stroke="#333" stroke-width="0.85" stroke-linecap="butt"/>
<line x1="482.70" y1="443.82" x2="513.80" y2="433.61" stroke="#333" stroke-width="0.85" stroke-linecap="butt"/>
<line x1="524.50" y1="430.10" x2="555.60" y2="419.90" stroke="#333" stroke-width="0.85" stroke-linecap="butt"/>
<line x1="566.30" y1="416.38" x2="597.50" y2="406.14" stroke="#333" stroke-width="0.85" stroke-linecap="butt"/>
<line x1="609.40" y1="402.24" x2="639.40" y2="392.39" stroke="#333" stroke-width="0.85" stroke-linecap="butt"/>
<line x1="651.25" y1="388.50" x2="663.75" y2="384.40" stroke="#333" stroke-width="0.85" stroke-linecap="butt"/>
<circle cx="476.90" cy="445.73" r="0.45" fill="#777"/>
<circle cx="519.15" cy="431.86" r="0.45" fill="#777"/>
<circle cx="560.95" cy="418.14" r="0.45" fill="#777"/>
<circle cx="603.45" cy="404.19" r="0.45" fill="#777"/>
<circle cx="645.33" cy="390.45" r="0.45" fill="#777"/>
<line x1="363.10" y1="416.25" x2="391.90" y2="431.99" stroke="#333" stroke-width="0.85" stroke-linecap="butt"/>
<line x1="402.50" y1="437.78" x2="431.25" y2="453.49" stroke="#333" stroke-width="0.85" stroke-linecap="butt"/>
<line x1="439.50" y1="458.00" x2="440.00" y2="458.27" stroke="#333" stroke-width="0.85" stroke-linecap="butt"/>
<circle cx="397.20" cy="434.88" r="0.45" fill="#777"/>
<circle cx="435.38" cy="455.75" r="0.45" fill="#777"/>
<g fill="none" stroke="#222" stroke-width="0.9" stroke-linecap="round" stroke-linejoin="round"><g transform="translate(335.20,196.25) scale(1.0)"><path d="M0.3,0 L0.3,7.6 L2.6,7.6 C3.9,7.6 4.7,6.8 4.7,5.6 C4.7,4.4 3.9,3.6 2.6,3.6 L0.3,3.6 M0.3,0 L2.3,0 C3.4,0 4.1,0.7 4.1,1.8 C4.1,2.9 3.4,3.6 2.3,3.6"/></g></g>
<line x1="330.00" y1="206.25" x2="345.00" y2="206.25" stroke="#222" stroke-width="0.95" stroke-linecap="butt"/>
<line x1="345.00" y1="206.25" x2="388.30" y2="249.50" stroke="#222" stroke-width="0.95" stroke-linecap="butt"/>
<g fill="none" stroke="#222" stroke-width="0.9" stroke-linecap="round" stroke-linejoin="round"><g transform="translate(532.20,181.10) scale(1.0)"><path d="M0.3,0 L0.3,7.6 L2.6,7.6 C3.9,7.6 4.7,6.8 4.7,5.6 C4.7,4.4 3.9,3.6 2.6,3.6 L0.3,3.6 M0.3,0 L2.3,0 C3.4,0 4.1,0.7 4.1,1.8 C4.1,2.9 3.4,3.6 2.3,3.6"/></g></g>
<line x1="527.50" y1="191.25" x2="541.90" y2="191.25" stroke="#222" stroke-width="0.95" stroke-linecap="butt"/>
<line x1="527.50" y1="191.25" x2="500.60" y2="235.60" stroke="#222" stroke-width="0.95" stroke-linecap="butt"/>
<circle cx="388.3" cy="249.5" r="1.25" fill="#0e78a6"/>
<circle cx="404.8" cy="268.5" r="1.25" fill="#0e78a6"/>
<circle cx="486.9" cy="256.6" r="1.25" fill="#0e78a6"/>
<circle cx="500.6" cy="235.6" r="1.25" fill="#0e78a6"/>
<line x1="26.50" y1="525.50" x2="773.00" y2="525.50" stroke="#4a4a4a" stroke-width="1.0" stroke-linecap="butt"/>

<g fill="none" stroke="#111" stroke-width="1.35">
<path d="M43.2,556.5 L62.3,536.3 M61.5,536.6 L61.5,556.5 M51.1,548.6 L58.6,548.6"/>
<ellipse cx="75.8" cy="546.1" rx="9.95" ry="10.1"/>
<path d="M90.3,536.5 L90.3,549.5 A6.35,6.6 0 0 0 103,549.5 L103,536.5"/>
<path d="M105.5,556.5 L113.5,536.5 L121.5,556.5 M110.5,549 L118.5,549"/>
<path d="M120.5,536.8 L132,536.8 M126.2,536.8 L126.2,556.5"/>
<ellipse cx="143.2" cy="546.3" rx="10.2" ry="10.2"/>
<path d="M157.5,556.5 L157.5,536.6 L174.5,556.3 L174.5,536.5"/>
</g>
<path d="M76.3,548.4 C79.5,549.5 81,551.5 83,554.5 C84.5,556.8 86.5,558 88.6,558.4" fill="none" stroke="#1e98c4" stroke-width="1.2"/>

<text x="309.0" y="550.3" font-size="17.0" textLength="43.6" lengthAdjust="spacingAndGlyphs" fill="#000" stroke="#fff" stroke-width="0.3" font-family="Liberation Sans">Тумба</text>
<text x="359.3" y="550.3" font-size="17.0" textLength="25.6" lengthAdjust="spacingAndGlyphs" fill="#000" stroke="#fff" stroke-width="0.3" font-family="Liberation Sans">под</text>
<text x="389.6" y="550.3" font-size="17.0" textLength="69.5" lengthAdjust="spacingAndGlyphs" fill="#000" stroke="#fff" stroke-width="0.3" font-family="Liberation Sans">раковину</text>
<text x="464.0" y="550.3" font-size="17.0" textLength="21.2" lengthAdjust="spacingAndGlyphs" fill="#000" stroke="#fff" stroke-width="0.3" font-family="Liberation Sans">70</text>
<g fill="none" stroke="#111" stroke-width="1.35">
<path d="M706.4,550.6 L712.75,536.1 L718.9,550.6 M709.3,545.5 L716.2,545.5"/>
<path d="M734,538.3 A7.5,7.4 0 1 0 734,548.6"/>
<path d="M734.3,536.6 L744,536.6 M739.6,536.6 L739.6,550.6"/>
<path d="M747.3,550.6 L747.3,536.1 M758.5,536.1 L758.5,550.6 M747.3,550.6 L758.5,536.1"/>
</g>
</svg></body></html>
